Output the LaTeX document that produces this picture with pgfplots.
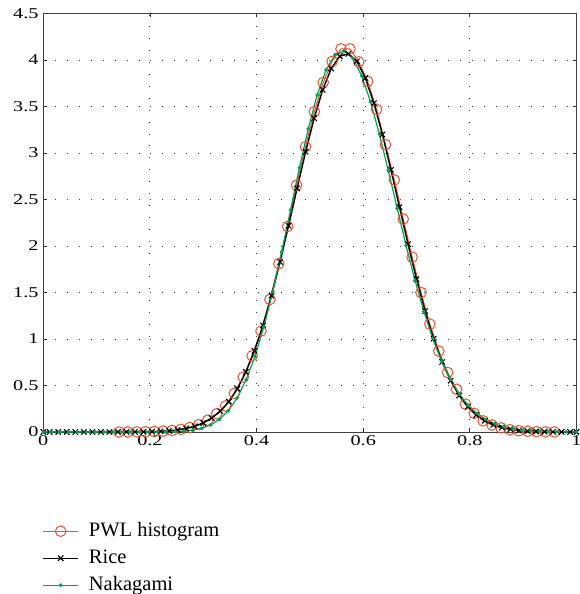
\documentclass[border=0pt]{standalone}
\usepackage{fontspec}
\setmainfont{Liberation Serif}
\usepackage{pgfplots}
\pgfplotsset{compat=1.18}
\definecolor{pwl}{RGB}{226,84,50}
\definecolor{nak}{RGB}{0,163,85}
\begin{document}
\begin{tikzpicture}
\begin{axis}[name=ax, scale only axis, width=533.2pt, height=418.5pt,
  xmin=0, xmax=1, ymin=0, ymax=4.5,
  xtick={0,0.2,0.4,0.6,0.8,1}, ytick={0,0.5,1,1.5,2,2.5,3,3.5,4,4.5},
  xticklabels={0,0.2,0.4,0.6,0.8,1},
  yticklabels={0,0.5,1,1.5,2,2.5,3,3.5,4,4.5},
  grid=major, major grid style={black!75, line width=0.9pt, dash pattern=on 0.9pt off 11pt},
  tick align=inside, major tick length=4pt, tick style={black!80, line width=0.8pt},
  axis line style={black!75, line width=1pt},
  tick label style={font=\fontsize{15}{15}\selectfont, xscale=1.35},
  legend cell align=left,
  legend style={draw=none, fill=none, at={(rel axis cs:0,0)}, anchor=north west,
    xshift=-1pt, yshift=-89pt, inner sep=0pt, row sep=7pt,
    font=\fontsize{20.5}{24}\selectfont,
    nodes={inner sep=1pt, text height=14pt, text depth=4pt},
    /tikz/every odd column/.append style={column sep=9pt}},
  legend image code/.code={\draw[mark repeat=2, mark phase=2, #1] plot coordinates {(0pt,0pt) (17.5pt,0pt) (35pt,0pt)};},
]
\addplot[pwl, line width=1.1pt, mark=o, mark size=5.3pt, mark options={line width=1pt}] coordinates {
(0.1417,0.0003) (0.1583,0.0007) (0.175,0.0014) (0.1917,0.0027) (0.2083,0.0051)
(0.225,0.0093) (0.2417,0.0167) (0.2583,0.0288) (0.275,0.0485) (0.2917,0.0795)
(0.3083,0.127) (0.325,0.196) (0.3417,0.280) (0.3583,0.415) (0.375,0.590)
(0.3917,0.82) (0.4083,1.085) (0.425,1.425) (0.4417,1.81) (0.4583,2.21)
(0.475,2.654) (0.4917,3.068) (0.5083,3.444) (0.525,3.759) (0.5417,3.985)
(0.5583,4.12) (0.575,4.12) (0.5917,3.98) (0.6083,3.77) (0.625,3.47)
(0.6417,3.09) (0.6583,2.71) (0.675,2.29) (0.6917,1.88) (0.7083,1.50)
(0.725,1.16) (0.7417,0.87) (0.7583,0.64) (0.775,0.46) (0.7917,0.30)
(0.8083,0.20) (0.825,0.12) (0.8417,0.075) (0.8583,0.045) (0.875,0.025)
(0.8917,0.014) (0.9083,0.008) (0.925,0.004) (0.9417,0.002) (0.9583,0.001)
};
\addlegendentry{PWL histogram}
\addplot[black, line width=1.4pt, mark=x, mark size=3.8pt, mark options={line width=1.1pt}] coordinates {
(0,0) (0.012,0) (0.028,0) (0.044,0) (0.060,0) (0.076,0) (0.092,0) (0.108,0) (0.124,0.0001)
(0.140,0.0003) (0.156,0.0006) (0.172,0.0012) (0.188,0.0022) (0.204,0.0041)
(0.220,0.0074) (0.236,0.0131) (0.252,0.0225) (0.268,0.0375) (0.284,0.0611)
(0.300,0.0968) (0.316,0.149) (0.332,0.224) (0.348,0.327) (0.364,0.466)
(0.380,0.646) (0.396,0.872) (0.412,1.146) (0.428,1.467) (0.444,1.828)
(0.460,2.218) (0.476,2.620) (0.492,3.013) (0.508,3.374) (0.524,3.680)
(0.540,3.907) (0.556,4.040) (0.572,4.067) (0.588,3.986) (0.604,3.805)
(0.620,3.536) (0.636,3.199) (0.652,2.819) (0.668,2.418) (0.684,2.020)
(0.700,1.643) (0.716,1.301) (0.732,1.003) (0.748,0.753) (0.764,0.551)
(0.780,0.392) (0.796,0.272) (0.812,0.183) (0.828,0.121) (0.844,0.0771)
(0.860,0.0481) (0.876,0.0291) (0.892,0.0172) (0.908,0.0099) (0.924,0.0055)
(0.940,0.0030) (0.956,0.0016) (0.972,0.0008) (0.988,0.0004) (1.0,0.0002)
};
\addlegendentry{Rice}
\addplot[nak, line width=1.2pt, mark=*, mark size=1.2pt] coordinates {
(0,0) (0.0137,0) (0.0303,0) (0.047,0) (0.0637,0) (0.0803,0) (0.097,0) (0.1137,0)
(0.1303,0) (0.147,0) (0.1637,0) (0.1803,0) (0.197,0.0001) (0.2137,0.0005)
(0.2303,0.0014) (0.247,0.0037) (0.2637,0.0089) (0.2803,0.0195) (0.297,0.0397)
(0.3137,0.0757) (0.3303,0.1355) (0.347,0.229) (0.3637,0.367) (0.3803,0.560)
(0.397,0.814) (0.4137,1.133) (0.4303,1.511) (0.447,1.937) (0.4637,2.388)
(0.4803,2.842) (0.497,3.262) (0.5137,3.625) (0.5303,3.895) (0.547,4.057)
(0.5637,4.098) (0.5803,4.020) (0.597,3.831) (0.6137,3.551) (0.6303,3.202)
(0.647,2.812) (0.6637,2.406) (0.6803,2.007) (0.697,1.632) (0.7137,1.296)
(0.7303,1.004) (0.747,0.760) (0.7637,0.562) (0.7803,0.406) (0.797,0.287)
(0.8137,0.199) (0.8303,0.134) (0.847,0.0887) (0.8637,0.0575) (0.8803,0.0364)
(0.897,0.0226) (0.9137,0.0137) (0.9303,0.0082) (0.947,0.0048) (0.9637,0.0027)
(0.9803,0.0015) (1.0,0.0008)
};
\addlegendentry{Nakagami}
\end{axis}
\pgfresetboundingbox
\path[use as bounding box] ([shift={(-43.3pt,-162pt)}]ax.south west) rectangle ([shift={(2.5pt,13.5pt)}]ax.north east);
\end{tikzpicture}
\end{document}
